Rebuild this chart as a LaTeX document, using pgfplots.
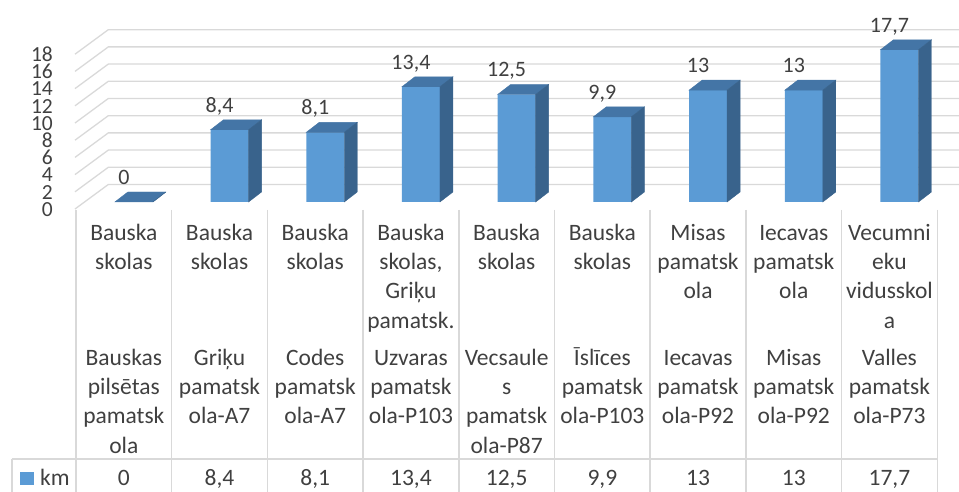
\documentclass[border=0pt]{standalone}
\usepackage{pgfplots}
\pgfplotsset{compat=1.18}
\usepackage{pgfplotstable}
\usepackage{fontspec}
\setmainfont{Carlito}
\pgfkeys{/pgf/number format/assume math mode=true}
\definecolor{txt}{HTML}{404040}
\definecolor{gridc}{HTML}{D9D9D9}
\definecolor{front}{HTML}{5B9BD5}
\definecolor{topc}{HTML}{4475A6}
\definecolor{sidec}{HTML}{39638C}
\pgfdeclareplotmark{nothing}{}
\pgfplotstableread{
x km
0 0
1 8.4
2 8.1
3 13.4
4 12.5
5 9.9
6 13
7 13
8 17.7
}\kmdata
\newcommand\cf{\fontsize{23.5pt}{29.2pt}\selectfont}
\newcommand\tickfont{\fontsize{21.5pt}{24pt}\selectfont}
\newcommand\labfont{\fontsize{22pt}{24pt}\selectfont}
\newcommand\block[3]{%
  \foreach \t [count=\i from 0] in {#3} {%
    \node[anchor=base, inner sep=0pt] at ({123.85+95.7*#1},{#2+29.2*\i}) {\t};}}
\begin{document}
\begin{tikzpicture}[font=\cf, text=txt]
\begin{scope}[shift={(-123.85pt,202pt)}, x=1pt, y=-1pt]
  \path[use as bounding box] (0,0) rectangle (959,492);
  % walls / gridlines
  \foreach \v in {0,2,...,18} {
    \draw[gridc, line width=1.3pt] (75,{209-8.6*\v}) -- (108.3,{184.5-8.6*\v}) -- (959,{184.5-8.6*\v});
    \node[anchor=base east, inner sep=0pt, font=\tickfont] at (53,{61.5+8.6*(18-\v)}) {\v};
  }
  % data table grid
  \foreach \k in {0,...,9}
    \draw[gridc, line width=1.5pt] ({76+95.7*\k},210) -- ({76+95.7*\k},492);
  \draw[gridc, line width=1.5pt] (12,459) -- (937,459);
  \draw[gridc, line width=1.5pt] (12,459) -- (12,492);
  % category labels
  \block{0}{240.5}{Bauska,skolas}
  \block{0}{365.5}{Bauskas,pilsētas,pamatsk,ola}
  \block{1}{240.5}{Bauska,skolas}
  \block{1}{365.5}{Griķu,pamatsk,ola-A7}
  \block{2}{240.5}{Bauska,skolas}
  \block{2}{365.5}{Codes,pamatsk,ola-A7}
  \block{3}{240.5}{Bauska,{skolas,},Griķu,pamatsk.}
  \block{3}{365.5}{Uzvaras,pamatsk,ola-P103}
  \block{4}{240.5}{Bauska,skolas}
  \block{4}{365.5}{Vecsaule,s,pamatsk,ola-P87}
  \block{5}{240.5}{Bauska,skolas}
  \block{5}{365.5}{Īslīces,pamatsk,ola-P103}
  \block{6}{240.5}{Misas,pamatsk,ola}
  \block{6}{365.5}{Iecavas,pamatsk,ola-P92}
  \block{7}{240.5}{Iecavas,pamatsk,ola}
  \block{7}{365.5}{Misas,pamatsk,ola-P92}
  \block{8}{240.5}{Vecumni,eku,vidusskol,a}
  \block{8}{365.5}{Valles,pamatsk,ola-P73}
  % legend key and values row
  \fill[front] (20,472) rectangle (34,485);
  \node[anchor=base west, inner sep=0pt] at (40,485.5) {km};
  \pgfplotstableforeachcolumnelement{km}\of\kmdata\as\cell{%
    \node[anchor=base, inner sep=0pt] at ({123.85+95.7*\pgfplotstablerow},485.5)
      {\pgfmathprintnumber[use comma,fixed,precision=1,assume math mode=true]{\cell}};}
\end{scope}
\begin{axis}[anchor=origin, at={(0pt,0pt)}, x=95.7pt, y=8.6pt,
  xmin=-1.3, xmax=8.8, ymin=-34, ymax=24, hide axis, clip=false]
\addplot[ybar, bar width=38pt, bar shift=10pt, fill=front, draw=none,
  nodes near coords={\pgfmathprintnumber[use comma,fixed,precision=1,assume math mode=true]{\pgfplotspointmeta}},
  every node near coord/.append style={font=\labfont, text=txt, inner sep=0pt, text depth=0pt, yshift=17.5pt}]
  table[x=x,y=km]{\kmdata};
\addplot[scatter, only marks, mark=nothing,
  scatter/@pre marker code/.code={%
     \begingroup
       \pgfkeys{/pgf/fpu=true,/pgf/fpu/output format=fixed}%
       \pgfmathparse{-\pgfplotspointmeta*8.6}\xdef\hh{\pgfmathresult}%
       \pgfmathparse{10-\pgfplotspointmeta*8.6}\xdef\hb{\pgfmathresult}%
     \endgroup
     \fill[topc] (-9pt,0pt) -- (29pt,0pt) -- (42pt,10pt) -- (4pt,10pt) -- cycle;
     \fill[sidec] (29pt,0pt) -- (42pt,10pt) -- (42pt,\hb pt) -- (29pt,\hh pt) -- cycle;
  },
  scatter/@post marker code/.code={}]
  table[x=x,y=km]{\kmdata};
\end{axis}
\end{tikzpicture}
\end{document}
